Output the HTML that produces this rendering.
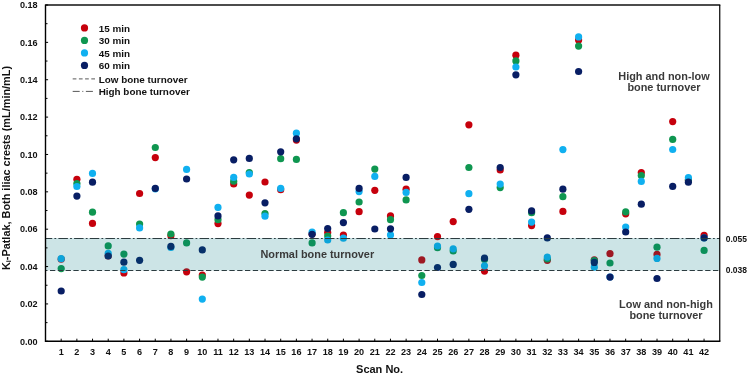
<!DOCTYPE html>
<html lang="en"><head><meta charset="utf-8"><title>Ki-Patlak by scan</title>
<style>
html,body{margin:0;padding:0;background:#fff;}
body{width:749px;height:374px;overflow:hidden;}
svg{display:block;}
text{font-family:"Liberation Sans", sans-serif;font-weight:bold;fill:#111;}
.tk{font-size:9.1px;}
.ax{font-size:11px;}
.rk{font-size:9.7px;}
.ay{font-size:10.9px;}
.lg{font-size:9.9px;}
.an{font-size:10.9px;fill:#3a3a3a;}
</style></head><body>
<svg width="749" height="374" viewBox="0 0 749 374">
<rect width="749" height="374" fill="#fff"/>
<g fill="#c6000c"><circle cx="61.2" cy="259.2" r="3.6"/><circle cx="76.9" cy="179.3" r="3.6"/><circle cx="92.5" cy="223.4" r="3.6"/><circle cx="108.2" cy="256.0" r="3.6"/><circle cx="123.9" cy="272.9" r="3.6"/><circle cx="139.6" cy="193.5" r="3.6"/><circle cx="155.3" cy="157.6" r="3.6"/><circle cx="170.9" cy="235.7" r="3.6"/><circle cx="186.6" cy="271.8" r="3.6"/><circle cx="202.3" cy="275.0" r="3.6"/><circle cx="218.0" cy="223.6" r="3.6"/><circle cx="233.7" cy="183.9" r="3.6"/><circle cx="249.3" cy="195.1" r="3.6"/><circle cx="265.0" cy="182.0" r="3.6"/><circle cx="280.7" cy="189.7" r="3.6"/><circle cx="296.4" cy="140.1" r="3.6"/><circle cx="312.1" cy="234.0" r="3.6"/><circle cx="327.7" cy="232.6" r="3.6"/><circle cx="343.4" cy="235.0" r="3.6"/><circle cx="359.1" cy="211.7" r="3.6"/><circle cx="374.8" cy="190.3" r="3.6"/><circle cx="390.5" cy="215.9" r="3.6"/><circle cx="406.1" cy="189.2" r="3.6"/><circle cx="421.8" cy="259.9" r="3.6"/><circle cx="437.5" cy="236.6" r="3.6"/><circle cx="453.2" cy="221.6" r="3.6"/><circle cx="468.9" cy="124.8" r="3.6"/><circle cx="484.5" cy="271.1" r="3.6"/><circle cx="500.2" cy="170.0" r="3.6"/><circle cx="515.9" cy="55.2" r="3.6"/><circle cx="531.6" cy="225.6" r="3.6"/><circle cx="547.3" cy="260.3" r="3.6"/><circle cx="562.9" cy="211.4" r="3.6"/><circle cx="578.6" cy="40.1" r="3.6"/><circle cx="594.3" cy="259.8" r="3.6"/><circle cx="610.0" cy="253.6" r="3.6"/><circle cx="625.7" cy="213.8" r="3.6"/><circle cx="641.3" cy="172.6" r="3.6"/><circle cx="657.0" cy="254.4" r="3.6"/><circle cx="672.7" cy="121.6" r="3.6"/><circle cx="688.4" cy="180.0" r="3.6"/><circle cx="704.1" cy="235.3" r="3.6"/></g>
<g fill="#0f9650"><circle cx="61.2" cy="268.6" r="3.6"/><circle cx="76.9" cy="183.6" r="3.6"/><circle cx="92.5" cy="212.2" r="3.6"/><circle cx="108.2" cy="245.9" r="3.6"/><circle cx="123.9" cy="254.1" r="3.6"/><circle cx="139.6" cy="224.0" r="3.6"/><circle cx="155.3" cy="147.5" r="3.6"/><circle cx="170.9" cy="234.0" r="3.6"/><circle cx="186.6" cy="242.9" r="3.6"/><circle cx="202.3" cy="277.1" r="3.6"/><circle cx="218.0" cy="219.7" r="3.6"/><circle cx="233.7" cy="181.2" r="3.6"/><circle cx="249.3" cy="172.6" r="3.6"/><circle cx="265.0" cy="213.5" r="3.6"/><circle cx="280.7" cy="158.7" r="3.6"/><circle cx="296.4" cy="159.4" r="3.6"/><circle cx="312.1" cy="242.9" r="3.6"/><circle cx="327.7" cy="236.0" r="3.6"/><circle cx="343.4" cy="212.7" r="3.6"/><circle cx="359.1" cy="202.0" r="3.6"/><circle cx="374.8" cy="169.1" r="3.6"/><circle cx="390.5" cy="219.7" r="3.6"/><circle cx="406.1" cy="199.9" r="3.6"/><circle cx="421.8" cy="275.5" r="3.6"/><circle cx="437.5" cy="247.7" r="3.6"/><circle cx="453.2" cy="251.0" r="3.6"/><circle cx="468.9" cy="167.5" r="3.6"/><circle cx="484.5" cy="259.5" r="3.6"/><circle cx="500.2" cy="187.6" r="3.6"/><circle cx="515.9" cy="60.9" r="3.6"/><circle cx="531.6" cy="212.7" r="3.6"/><circle cx="547.3" cy="259.0" r="3.6"/><circle cx="562.9" cy="196.7" r="3.6"/><circle cx="578.6" cy="46.1" r="3.6"/><circle cx="594.3" cy="260.5" r="3.6"/><circle cx="610.0" cy="263.0" r="3.6"/><circle cx="625.7" cy="211.9" r="3.6"/><circle cx="641.3" cy="175.6" r="3.6"/><circle cx="657.0" cy="247.2" r="3.6"/><circle cx="672.7" cy="139.4" r="3.6"/><circle cx="688.4" cy="180.0" r="3.6"/><circle cx="704.1" cy="250.4" r="3.6"/></g>
<g fill="#10b0f0"><circle cx="61.2" cy="258.7" r="3.6"/><circle cx="76.9" cy="186.5" r="3.6"/><circle cx="92.5" cy="173.4" r="3.6"/><circle cx="108.2" cy="253.3" r="3.6"/><circle cx="123.9" cy="269.7" r="3.6"/><circle cx="139.6" cy="227.9" r="3.6"/><circle cx="155.3" cy="188.8" r="3.6"/><circle cx="170.9" cy="247.5" r="3.6"/><circle cx="186.6" cy="169.4" r="3.6"/><circle cx="202.3" cy="299.1" r="3.6"/><circle cx="218.0" cy="207.4" r="3.6"/><circle cx="233.7" cy="177.4" r="3.6"/><circle cx="249.3" cy="174.0" r="3.6"/><circle cx="265.0" cy="216.2" r="3.6"/><circle cx="280.7" cy="188.4" r="3.6"/><circle cx="296.4" cy="133.2" r="3.6"/><circle cx="312.1" cy="232.2" r="3.6"/><circle cx="327.7" cy="240.0" r="3.6"/><circle cx="343.4" cy="238.2" r="3.6"/><circle cx="359.1" cy="191.6" r="3.6"/><circle cx="374.8" cy="176.4" r="3.6"/><circle cx="390.5" cy="234.9" r="3.6"/><circle cx="406.1" cy="192.4" r="3.6"/><circle cx="421.8" cy="282.5" r="3.6"/><circle cx="437.5" cy="246.0" r="3.6"/><circle cx="453.2" cy="248.8" r="3.6"/><circle cx="468.9" cy="193.7" r="3.6"/><circle cx="484.5" cy="265.8" r="3.6"/><circle cx="500.2" cy="184.1" r="3.6"/><circle cx="515.9" cy="67.0" r="3.6"/><circle cx="531.6" cy="222.1" r="3.6"/><circle cx="547.3" cy="257.1" r="3.6"/><circle cx="562.9" cy="149.6" r="3.6"/><circle cx="578.6" cy="36.9" r="3.6"/><circle cx="594.3" cy="267.2" r="3.6"/><circle cx="610.0" cy="277.0" r="3.6"/><circle cx="625.7" cy="227.1" r="3.6"/><circle cx="641.3" cy="181.4" r="3.6"/><circle cx="657.0" cy="258.4" r="3.6"/><circle cx="672.7" cy="149.5" r="3.6"/><circle cx="688.4" cy="177.6" r="3.6"/><circle cx="704.1" cy="237.8" r="3.6"/></g>
<g fill="#081e64"><circle cx="61.2" cy="291.0" r="3.6"/><circle cx="76.9" cy="196.1" r="3.6"/><circle cx="92.5" cy="182.2" r="3.6"/><circle cx="108.2" cy="256.0" r="3.6"/><circle cx="123.9" cy="262.2" r="3.6"/><circle cx="139.6" cy="260.3" r="3.6"/><circle cx="155.3" cy="188.4" r="3.6"/><circle cx="170.9" cy="246.4" r="3.6"/><circle cx="186.6" cy="179.0" r="3.6"/><circle cx="202.3" cy="249.9" r="3.6"/><circle cx="218.0" cy="215.9" r="3.6"/><circle cx="233.7" cy="159.8" r="3.6"/><circle cx="249.3" cy="158.4" r="3.6"/><circle cx="265.0" cy="202.8" r="3.6"/><circle cx="280.7" cy="151.8" r="3.6"/><circle cx="296.4" cy="138.8" r="3.6"/><circle cx="312.1" cy="234.3" r="3.6"/><circle cx="327.7" cy="228.5" r="3.6"/><circle cx="343.4" cy="222.6" r="3.6"/><circle cx="359.1" cy="188.4" r="3.6"/><circle cx="374.8" cy="229.0" r="3.6"/><circle cx="390.5" cy="228.8" r="3.6"/><circle cx="406.1" cy="177.4" r="3.6"/><circle cx="421.8" cy="294.5" r="3.6"/><circle cx="437.5" cy="267.5" r="3.6"/><circle cx="453.2" cy="264.4" r="3.6"/><circle cx="468.9" cy="209.3" r="3.6"/><circle cx="484.5" cy="258.2" r="3.6"/><circle cx="500.2" cy="167.5" r="3.6"/><circle cx="515.9" cy="74.8" r="3.6"/><circle cx="531.6" cy="210.9" r="3.6"/><circle cx="547.3" cy="237.9" r="3.6"/><circle cx="562.9" cy="189.2" r="3.6"/><circle cx="578.6" cy="71.5" r="3.6"/><circle cx="594.3" cy="262.4" r="3.6"/><circle cx="610.0" cy="277.1" r="3.6"/><circle cx="625.7" cy="232.0" r="3.6"/><circle cx="641.3" cy="204.2" r="3.6"/><circle cx="657.0" cy="278.5" r="3.6"/><circle cx="672.7" cy="186.4" r="3.6"/><circle cx="688.4" cy="182.2" r="3.6"/><circle cx="704.1" cy="237.9" r="3.6"/></g>
<rect x="45.5" y="238.0" width="674.4" height="32.5" fill="rgba(0,122,132,0.2)"/>
<line x1="45.5" x2="719.9" y1="238.5" y2="238.5" stroke="#2c3c40" stroke-width="1" stroke-dasharray="9.5 2.2 1.8 2.18" stroke-dashoffset="2.78"/>
<line x1="45.5" x2="719.9" y1="270.5" y2="270.5" stroke="#2c3c40" stroke-width="1" stroke-dasharray="5.3 2.5" stroke-dashoffset="3.3"/>
<path d="M45.5 5.0H720.3" fill="none" stroke="#111" stroke-width="1.35"/><path d="M719.75 5.0V341.3" fill="none" stroke="#000" stroke-width="1.2"/>
<path d="M45.5 4.5V341.3H720.4" fill="none" stroke="#000" stroke-width="1.4"/>
<path d="M45.5 341.30h2.6 M45.5 322.62h2.0 M45.5 303.93h2.6 M45.5 285.25h2.0 M45.5 266.57h2.6 M45.5 247.88h2.0 M45.5 229.20h2.6 M45.5 210.52h2.0 M45.5 191.83h2.6 M45.5 173.15h2.0 M45.5 154.47h2.6 M45.5 135.78h2.0 M45.5 117.10h2.6 M45.5 98.42h2.0 M45.5 79.73h2.6 M45.5 61.05h2.0 M45.5 42.37h2.6 M45.5 23.68h2.0 M45.5 5.00h2.6 M61.18 341.3v-2.6 M76.86 341.3v-2.6 M92.54 341.3v-2.6 M108.22 341.3v-2.6 M123.90 341.3v-2.6 M139.58 341.3v-2.6 M155.26 341.3v-2.6 M170.94 341.3v-2.6 M186.62 341.3v-2.6 M202.30 341.3v-2.6 M217.98 341.3v-2.6 M233.66 341.3v-2.6 M249.34 341.3v-2.6 M265.02 341.3v-2.6 M280.70 341.3v-2.6 M296.38 341.3v-2.6 M312.06 341.3v-2.6 M327.74 341.3v-2.6 M343.42 341.3v-2.6 M359.10 341.3v-2.6 M374.78 341.3v-2.6 M390.46 341.3v-2.6 M406.14 341.3v-2.6 M421.82 341.3v-2.6 M437.50 341.3v-2.6 M453.18 341.3v-2.6 M468.86 341.3v-2.6 M484.54 341.3v-2.6 M500.22 341.3v-2.6 M515.90 341.3v-2.6 M531.58 341.3v-2.6 M547.26 341.3v-2.6 M562.94 341.3v-2.6 M578.62 341.3v-2.6 M594.30 341.3v-2.6 M609.98 341.3v-2.6 M625.66 341.3v-2.6 M641.34 341.3v-2.6 M657.02 341.3v-2.6 M672.70 341.3v-2.6 M688.38 341.3v-2.6 M704.06 341.3v-2.6" stroke="#000" stroke-width="1" fill="none"/>
<text class="tk" x="37.6" y="344.5" text-anchor="end">0.00</text><text class="tk" x="37.6" y="307.1" text-anchor="end">0.02</text><text class="tk" x="37.6" y="269.8" text-anchor="end">0.04</text><text class="tk" x="37.6" y="232.4" text-anchor="end">0.06</text><text class="tk" x="37.6" y="195.0" text-anchor="end">0.08</text><text class="tk" x="37.6" y="157.7" text-anchor="end">0.10</text><text class="tk" x="37.6" y="120.3" text-anchor="end">0.12</text><text class="tk" x="37.6" y="82.9" text-anchor="end">0.14</text><text class="tk" x="37.6" y="45.6" text-anchor="end">0.16</text><text class="tk" x="37.6" y="8.2" text-anchor="end">0.18</text>
<text class="tk" x="61.2" y="355.1" text-anchor="middle">1</text><text class="tk" x="76.9" y="355.1" text-anchor="middle">2</text><text class="tk" x="92.5" y="355.1" text-anchor="middle">3</text><text class="tk" x="108.2" y="355.1" text-anchor="middle">4</text><text class="tk" x="123.9" y="355.1" text-anchor="middle">5</text><text class="tk" x="139.6" y="355.1" text-anchor="middle">6</text><text class="tk" x="155.3" y="355.1" text-anchor="middle">7</text><text class="tk" x="170.9" y="355.1" text-anchor="middle">8</text><text class="tk" x="186.6" y="355.1" text-anchor="middle">9</text><text class="tk" x="202.3" y="355.1" text-anchor="middle">10</text><text class="tk" x="218.0" y="355.1" text-anchor="middle">11</text><text class="tk" x="233.7" y="355.1" text-anchor="middle">12</text><text class="tk" x="249.3" y="355.1" text-anchor="middle">13</text><text class="tk" x="265.0" y="355.1" text-anchor="middle">14</text><text class="tk" x="280.7" y="355.1" text-anchor="middle">15</text><text class="tk" x="296.4" y="355.1" text-anchor="middle">16</text><text class="tk" x="312.1" y="355.1" text-anchor="middle">17</text><text class="tk" x="327.7" y="355.1" text-anchor="middle">18</text><text class="tk" x="343.4" y="355.1" text-anchor="middle">19</text><text class="tk" x="359.1" y="355.1" text-anchor="middle">20</text><text class="tk" x="374.8" y="355.1" text-anchor="middle">21</text><text class="tk" x="390.5" y="355.1" text-anchor="middle">22</text><text class="tk" x="406.1" y="355.1" text-anchor="middle">23</text><text class="tk" x="421.8" y="355.1" text-anchor="middle">24</text><text class="tk" x="437.5" y="355.1" text-anchor="middle">25</text><text class="tk" x="453.2" y="355.1" text-anchor="middle">26</text><text class="tk" x="468.9" y="355.1" text-anchor="middle">27</text><text class="tk" x="484.5" y="355.1" text-anchor="middle">28</text><text class="tk" x="500.2" y="355.1" text-anchor="middle">29</text><text class="tk" x="515.9" y="355.1" text-anchor="middle">30</text><text class="tk" x="531.6" y="355.1" text-anchor="middle">31</text><text class="tk" x="547.3" y="355.1" text-anchor="middle">32</text><text class="tk" x="562.9" y="355.1" text-anchor="middle">33</text><text class="tk" x="578.6" y="355.1" text-anchor="middle">34</text><text class="tk" x="594.3" y="355.1" text-anchor="middle">35</text><text class="tk" x="610.0" y="355.1" text-anchor="middle">36</text><text class="tk" x="625.7" y="355.1" text-anchor="middle">37</text><text class="tk" x="641.3" y="355.1" text-anchor="middle">38</text><text class="tk" x="657.0" y="355.1" text-anchor="middle">39</text><text class="tk" x="672.7" y="355.1" text-anchor="middle">40</text><text class="tk" x="688.4" y="355.1" text-anchor="middle">41</text><text class="tk" x="704.1" y="355.1" text-anchor="middle">42</text>
<text class="ax" x="379.6" y="372.7" text-anchor="middle">Scan No.</text>
<text class="ay" transform="translate(9.6 168) rotate(-90)" text-anchor="middle">K<tspan font-size="7px" dy="1.2">i</tspan><tspan dy="-1.2">-Patlak, Both iliac crests (mL/min/mL)</tspan></text>
<circle cx="84.5" cy="27.9" r="3.6" fill="#c6000c"/><text class="lg" x="98.7" y="31.7">15 min</text><circle cx="84.5" cy="40.4" r="3.6" fill="#0f9650"/><text class="lg" x="98.7" y="44.2">30 min</text><circle cx="84.5" cy="52.9" r="3.6" fill="#10b0f0"/><text class="lg" x="98.7" y="56.7">45 min</text><circle cx="84.5" cy="65.4" r="3.6" fill="#081e64"/><text class="lg" x="98.7" y="69.2">60 min</text>
<line x1="72.7" x2="95" y1="78.9" y2="78.9" stroke="#444" stroke-width="0.9" stroke-dasharray="3.7 2.5"/><text class="lg" x="98.7" y="82.7">Low bone turnover</text>
<line x1="72.7" x2="94" y1="91.4" y2="91.4" stroke="#444" stroke-width="0.9" stroke-dasharray="7 2.6 1 2.6"/><text class="lg" x="98.7" y="95.2">High bone turnover</text>
<text class="an" x="664" y="79.8" text-anchor="middle">High and non-low</text><text class="an" x="664" y="91.2" text-anchor="middle">bone turnover</text>
<text class="an" x="317.3" y="258.2" text-anchor="middle">Normal bone turnover</text>
<text class="an" x="666" y="308" text-anchor="middle">Low and non-high</text><text class="an" x="666" y="319.4" text-anchor="middle">bone turnover</text>
<text class="rk" x="725.7" y="241.5" textLength="21.2" lengthAdjust="spacingAndGlyphs">0.055</text><text class="rk" x="725.7" y="272.7" textLength="21.2" lengthAdjust="spacingAndGlyphs">0.038</text>
</svg></body></html>
